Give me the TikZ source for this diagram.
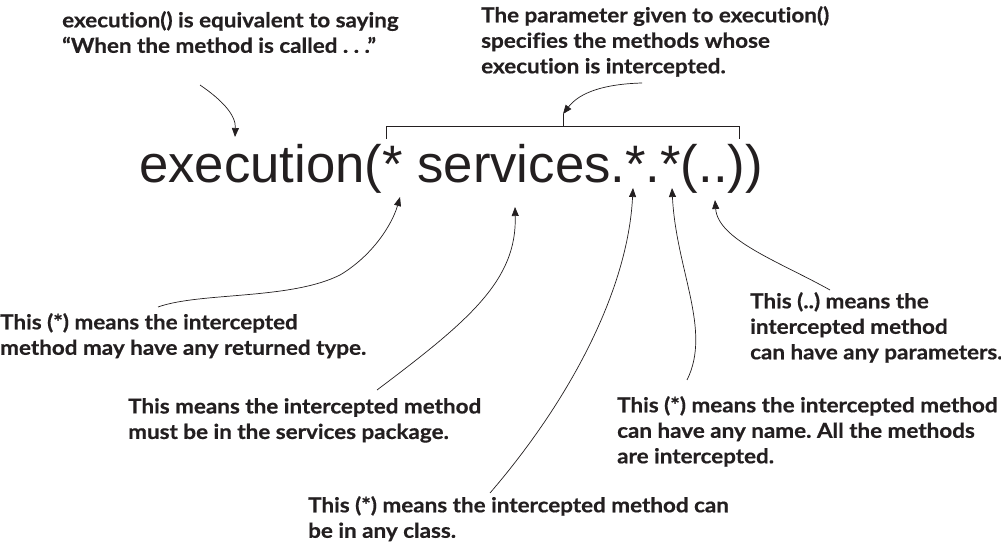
\documentclass[tikz,border=0pt]{standalone}
\usepackage{fontspec}
\setmainfont{Liberation Sans}
\newfontfamily\notefont[Ligatures=NoCommon,FakeStretch=1.095,FakeBold=0.6]{Lato}
\usetikzlibrary{arrows.meta}
\definecolor{ink}{HTML}{231F20}
\frenchspacing

\tikzset{
  note/.style={anchor=north west, inner sep=0pt, align=left, text=ink,
    font=\notefont\bfseries\fontsize{20.5}{25.5}\selectfont},
  callout/.style={-{Triangle[length=9pt,width=7pt]}, line width=0.7pt, draw=ink},
}

\begin{document}
\begin{tikzpicture}[x=1pt,y=-1pt]
    \useasboundingbox (0,0) rectangle (1001,548);
    % the expression
    \node[anchor=base west, inner sep=0pt, text=ink, font=\fontsize{52.7}{60}\selectfont] (expr) at (139,183) {execution(* services.*.*(..))};
    
    % bracket over the parameter
    \draw[line width=0.8pt, ink] (386,139) |- (739,126) -- (739,139);
    \draw[line width=0.8pt, ink] (563,126) -- (563,114) coordinate (brtop);
    
    % notes
    \node[note] (eqv) at (62,11) {execution() is equivalent to saying\\“When the method is called . . .”};
    \node[note] (param) at (481,6) {The parameter given to execution()\\specifies the methods whose\\execution is intercepted.};
    \node[note] (ret) at (0,313) {This (*) means the intercepted\\method may have any returned type.};
    \node[note] (pkg) at (128,398) {This means the intercepted method\\must be in the services package.};
    \node[note] (args) at (750,292) {This (..) means the\\intercepted method\\can have any parameters.};
    \node[note] (name) at (617,396) {This (*) means the intercepted method\\can have any name. All the methods\\are intercepted.};
    \node[note] (cls) at (308,496) {This (*) means the intercepted method can\\be in any class.};
    
    % points on the expression
    \coordinate (t-exec) at (235,137);
    \coordinate (t-ret) at (400,197);
    \coordinate (t-pkg) at (515,207);
    \coordinate (t-cls) at (633,188);
    \coordinate (t-name) at (672,188);
    \coordinate (t-args) at (715,200);
    
    % callouts
    \draw[callout] ([xshift=138pt,yshift=-74pt]eqv.north west) .. controls (222,100) and (236,115) .. (t-exec);
    \draw[callout] ([xshift=161pt,yshift=-77pt]param.north west) .. controls (605,84) and (580,92) .. (brtop);
    \draw[callout] ([xshift=158pt,yshift=6pt]ret.north west) .. controls (200,292) and (290,300) .. (340,275) .. controls (372,256) and (392,225) .. (t-ret);
    \draw[callout] ([xshift=249pt,yshift=8pt]pkg.north west) .. controls (470,320) and (517,280) .. (t-pkg);
    \draw[callout] ([xshift=182pt,yshift=3pt]cls.north west) .. controls (570,400) and (628,290) .. (t-cls);
    \draw[callout] ([xshift=70pt,yshift=16pt]name.north west) .. controls (712,330) and (676,270) .. (t-name);
    \draw[callout] ([xshift=80pt,yshift=2pt]args.north west) .. controls (780,262) and (718,240) .. (t-args);
\end{tikzpicture}
\end{document}
